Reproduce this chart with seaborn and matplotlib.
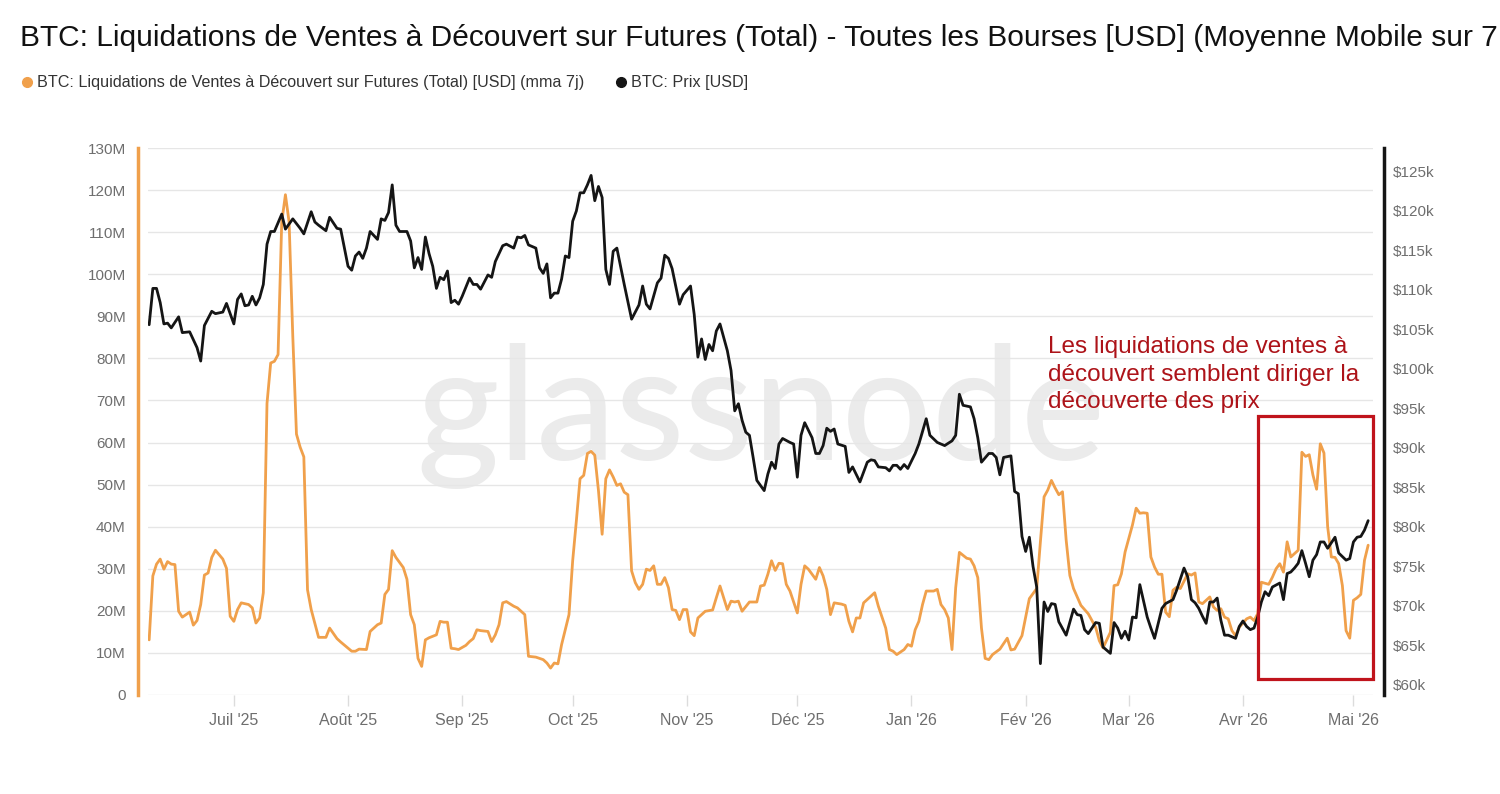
import pandas as pd
import matplotlib
matplotlib.use("Agg")
import matplotlib.pyplot as plt
import matplotlib.dates as mdates
from matplotlib.lines import Line2D
from matplotlib.patches import Rectangle
from matplotlib.ticker import FuncFormatter, MultipleLocator
import seaborn as sns

# --- Data ---
start_date = "2025-06-08"   # day 0

# (day, short liquidations 7d MA in M USD)
liq_points = [
    (0, 13.1), (1, 28.3), (2, 31.1), (3, 32.3), (4, 29.9), (5, 31.7), (6, 31.1), (7, 31.0), (8, 19.9),
    (9, 18.5), (11, 19.7), (12, 16.6), (13, 17.7), (14, 21.5), (15, 28.5), (16, 29.0), (17, 32.7),
    (18, 34.4), (20, 32.3), (21, 30.1), (22, 18.7), (23, 17.5), (24, 20.3), (25, 21.9), (27, 21.5),
    (28, 20.7), (29, 17.1), (30, 18.3), (31, 24.3), (32, 69.3), (33, 78.9), (34, 79.3), (35, 80.9),
    (36, 112.4), (37, 118.9), (38, 112.4), (39, 85.3), (40, 62.0), (41, 58.9), (42, 56.6), (43, 25.0),
    (44, 20.3), (46, 13.7), (48, 13.7), (49, 15.9), (51, 13.4), (52, 12.6), (55, 10.4), (56, 10.4),
    (57, 10.9), (59, 10.8), (60, 15.1), (62, 16.7), (63, 17.1), (64, 23.9), (65, 25.1), (66, 34.3),
    (67, 32.7), (69, 30.3), (70, 27.5), (71, 19.1), (72, 16.7), (73, 8.7), (74, 6.8), (75, 13.1),
    (76, 13.6), (78, 14.3), (79, 17.5), (80, 17.3), (81, 17.3), (82, 11.1), (83, 11.0), (84, 10.8),
    (86, 11.8), (87, 12.7), (88, 13.4), (89, 15.5), (90, 15.3), (92, 15.1), (93, 12.7), (94, 14.3),
    (95, 16.7), (96, 21.9), (97, 22.2), (99, 21.1), (100, 20.7), (102, 19.1), (103, 9.2), (105, 9.0),
    (107, 8.4), (108, 7.6), (109, 6.4), (110, 7.6), (111, 7.4), (112, 12.0), (114, 19.1), (115, 31.9),
    (116, 41.4), (117, 51.4), (118, 52.2), (119, 57.4), (120, 57.9), (121, 57.0), (122, 48.6),
    (123, 38.2), (124, 51.4), (125, 53.5), (126, 51.8), (127, 49.8), (128, 50.2), (129, 48.2),
    (130, 47.6), (131, 29.5), (132, 26.7), (133, 25.1), (134, 26.3), (135, 29.9), (136, 29.6),
    (137, 30.7), (138, 26.3), (139, 26.3), (140, 27.9), (141, 25.5), (142, 20.3), (143, 20.1),
    (144, 17.9), (145, 20.3), (146, 20.3), (147, 15.0), (148, 14.1), (149, 18.3), (151, 19.9),
    (153, 20.2), (154, 23.1), (155, 25.9), (156, 23.1), (157, 20.3), (158, 22.3), (159, 22.1),
    (160, 22.3), (161, 19.9), (163, 22.1), (164, 22.1), (165, 22.1), (166, 25.9), (167, 26.1),
    (168, 28.7), (169, 31.9), (170, 29.6), (171, 31.3), (172, 31.2), (173, 26.3), (174, 24.7),
    (175, 22.1), (176, 19.5), (177, 26.3), (178, 30.7), (179, 29.9), (181, 27.5), (182, 30.3),
    (183, 28.3), (184, 25.1), (185, 19.1), (186, 21.9), (188, 21.6), (189, 21.3), (190, 17.5),
    (191, 15.0), (192, 18.3), (193, 18.3), (194, 21.9), (195, 22.7), (197, 24.3), (198, 21.1),
    (200, 15.9), (201, 10.8), (202, 10.4), (203, 9.6), (205, 10.8), (206, 12.0), (207, 11.6),
    (208, 15.5), (209, 17.5), (210, 21.5), (211, 24.7), (213, 24.7), (214, 25.1), (215, 21.5),
    (216, 20.3), (217, 18.3), (218, 10.8), (219, 25.5), (220, 33.9), (222, 32.5), (223, 32.3),
    (224, 30.7), (225, 27.9), (226, 15.9), (227, 8.7), (228, 8.4), (229, 9.6), (231, 10.9),
    (233, 13.5), (234, 10.7), (235, 10.9), (237, 14.1), (238, 18.5), (239, 22.9), (241, 25.3),
    (242, 36.4), (243, 47.1), (244, 48.7), (245, 51.0), (246, 49.2), (247, 47.6), (248, 48.3),
    (249, 36.8), (250, 28.4), (251, 25.3), (253, 21.3), (255, 19.3), (257, 16.1), (258, 12.9),
    (259, 11.2), (261, 14.9), (262, 26.0), (263, 26.2), (264, 28.8), (265, 34.0), (266, 37.2),
    (267, 40.4), (268, 44.4), (269, 43.2), (270, 43.3), (271, 43.2), (272, 32.8), (273, 30.4),
    (274, 28.7), (275, 28.7), (276, 19.7), (277, 18.6), (278, 24.9), (279, 25.6), (280, 25.3),
    (282, 28.8), (283, 28.5), (284, 29.0), (285, 22.1), (286, 21.7), (288, 23.3), (289, 20.9),
    (290, 20.1), (291, 20.5), (292, 18.5), (293, 18.1), (294, 15.3), (295, 14.1), (296, 16.1),
    (298, 18.1), (299, 18.5), (300, 17.7), (301, 19.3), (302, 26.8), (304, 26.3), (305, 28.0),
    (306, 30.0), (307, 31.2), (308, 29.2), (309, 36.4), (310, 32.8), (311, 33.6), (312, 34.4),
    (313, 57.7), (314, 56.7), (315, 57.1), (316, 52.3), (317, 48.9), (318, 59.7), (319, 57.5),
    (320, 40.0), (321, 32.8), (322, 32.7), (323, 31.2), (324, 26.0), (325, 15.3), (326, 13.5),
    (327, 22.5), (328, 23.1), (329, 23.9), (330, 32.0), (331, 35.6),
]

# (day, BTC price in k USD)
price_points = [
    (0, 105.6), (1, 110.2), (2, 110.2), (3, 108.4), (4, 105.7), (5, 105.8), (6, 105.2), (8, 106.6),
    (9, 104.6), (11, 104.7), (13, 102.7), (14, 101.0), (15, 105.5), (17, 107.3), (18, 107.0),
    (20, 107.2), (21, 108.3), (23, 105.7), (24, 108.8), (25, 109.5), (26, 108.0), (27, 108.1),
    (28, 109.2), (29, 108.1), (30, 109.0), (31, 110.7), (32, 115.8), (33, 117.4), (34, 117.4),
    (36, 119.6), (37, 117.7), (39, 119.0), (41, 117.8), (42, 117.1), (44, 119.9), (45, 118.6),
    (46, 118.2), (48, 117.5), (49, 119.2), (51, 117.8), (52, 117.7), (54, 113.0), (55, 112.5),
    (56, 114.3), (57, 114.8), (58, 114.0), (59, 115.3), (60, 117.4), (62, 116.4), (63, 119.0),
    (64, 118.8), (65, 119.8), (66, 123.3), (67, 118.2), (68, 117.4), (70, 117.4), (71, 116.2),
    (72, 112.8), (73, 114.1), (74, 112.6), (75, 116.7), (76, 114.6), (77, 113.0), (78, 110.2),
    (79, 111.6), (80, 111.3), (81, 112.4), (82, 108.4), (83, 108.7), (84, 108.2), (85, 109.2),
    (87, 111.5), (88, 110.7), (89, 110.7), (90, 110.1), (92, 111.9), (93, 111.6), (94, 113.6),
    (96, 115.6), (97, 115.8), (99, 115.3), (100, 116.7), (101, 116.6), (102, 116.9), (103, 115.7),
    (105, 115.3), (106, 112.8), (107, 112.1), (108, 113.3), (109, 109.0), (110, 109.6), (111, 109.6),
    (112, 111.4), (113, 114.3), (114, 114.1), (115, 118.7), (116, 120.0), (117, 122.3), (118, 122.3),
    (119, 123.3), (120, 124.5), (121, 121.3), (122, 123.1), (123, 121.7), (124, 112.6), (125, 110.7),
    (126, 114.9), (127, 115.3), (129, 110.7), (131, 106.3), (133, 108.1), (134, 110.5), (135, 108.2),
    (136, 107.6), (138, 110.9), (139, 111.5), (140, 114.4), (141, 114.0), (142, 112.7), (144, 108.2),
    (145, 109.4), (147, 110.5), (148, 106.9), (149, 101.5), (150, 103.8), (151, 101.2), (152, 103.1),
    (153, 102.3), (154, 104.8), (155, 105.7), (157, 102.3), (158, 99.8), (159, 94.7), (160, 95.6),
    (161, 93.5), (162, 92.0), (163, 91.6), (164, 88.8), (165, 85.9), (167, 84.6), (168, 86.7),
    (169, 88.2), (170, 87.4), (171, 90.5), (172, 91.2), (174, 90.7), (175, 90.5), (176, 86.3),
    (177, 91.6), (178, 93.2), (180, 91.3), (181, 89.3), (182, 89.3), (183, 90.3), (184, 92.5),
    (185, 92.1), (186, 92.4), (187, 90.5), (189, 90.2), (190, 86.9), (191, 87.6), (193, 85.7),
    (195, 88.2), (196, 88.5), (197, 88.4), (198, 87.6), (200, 87.5), (201, 87.1), (202, 87.8),
    (203, 87.8), (204, 87.3), (205, 87.9), (206, 87.4), (208, 89.3), (209, 90.5), (211, 93.7),
    (212, 91.6), (214, 90.7), (216, 90.3), (218, 90.9), (219, 91.6), (220, 96.8), (221, 95.4),
    (223, 95.2), (224, 93.7), (225, 91.3), (226, 88.2), (228, 89.3), (229, 89.3), (230, 88.8),
    (231, 86.6), (232, 88.8), (234, 89.0), (235, 84.5), (236, 84.2), (237, 78.8), (238, 76.9),
    (239, 78.7), (240, 75.0), (241, 72.4), (242, 62.7), (243, 70.5), (244, 69.3), (245, 70.3),
    (246, 70.2), (247, 68.0), (249, 66.3), (251, 69.6), (252, 68.9), (253, 68.8), (254, 67.0),
    (255, 66.5), (257, 67.9), (258, 67.8), (259, 64.8), (261, 64.0), (262, 67.9), (263, 67.2),
    (264, 65.9), (265, 66.8), (266, 65.7), (267, 68.6), (268, 68.5), (269, 72.7), (271, 68.6),
    (272, 67.2), (273, 65.9), (275, 69.7), (276, 70.3), (278, 70.8), (279, 72.0), (281, 74.8),
    (282, 73.7), (283, 70.8), (284, 70.4), (285, 69.7), (286, 68.7), (287, 67.8), (288, 70.5),
    (289, 70.5), (290, 71.0), (291, 68.2), (292, 66.3), (293, 66.3), (295, 65.9), (296, 67.4),
    (297, 68.1), (298, 67.4), (299, 67.0), (300, 67.2), (301, 68.6), (302, 70.5), (303, 71.8),
    (304, 71.3), (305, 72.4), (307, 72.9), (308, 70.8), (309, 74.1), (310, 74.3), (311, 74.8),
    (312, 75.4), (313, 77.0), (314, 75.4), (315, 73.7), (316, 75.8), (317, 76.5), (318, 78.1),
    (319, 78.1), (320, 77.3), (322, 78.7), (323, 76.7), (325, 75.8), (326, 76.0), (327, 78.1),
    (328, 78.7), (329, 78.8), (330, 79.6), (331, 80.8),
]

month_names = ["Jan", "Fév", "Mar", "Avr", "Mai", "Juin", "Juil", "Août", "Sep", "Oct", "Nov", "Déc"]

title = ("BTC: Liquidations de Ventes à Découvert sur Futures (Total) - Toutes les Bourses [USD] "
         "(Moyenne Mobile sur 7 jours)")
liq_label = "BTC: Liquidations de Ventes à Découvert sur Futures (Total) [USD] (mma 7j)"
price_label = "BTC: Prix [USD]"
note = "Les liquidations de ventes à\ndécouvert semblent diriger la\ndécouverte des prix"

# --- Style ---
sns.set_theme(style="white")
plt.rcParams["font.family"] = ["Liberation Sans", "DejaVu Sans"]

ORANGE = "#f0a04b"
BLACK = "#151515"
RED = "#ad1319"
GRAY = "#6e6e6e"

start = pd.Timestamp(start_date)
liq = pd.DataFrame(liq_points, columns=["day", "value"])
liq["date"] = start + pd.to_timedelta(liq["day"], unit="D")
price = pd.DataFrame(price_points, columns=["day", "value"])
price["date"] = start + pd.to_timedelta(price["day"], unit="D")

fig = plt.figure(figsize=(15, 7.94), dpi=100)
ax = fig.add_axes([0.0987, 0.1247, 0.8166, 0.6889])
ax2 = ax.twinx()

# watermark
ax.text(0.5, 0.51, "glassnode", transform=ax.transAxes, ha="center", va="center",
        fontsize=114, color="#ebebeb", family="Lato", fontweight=500, zorder=0)

sns.lineplot(data=liq, x="date", y="value", ax=ax, color=ORANGE, lw=2.0, zorder=3)
sns.lineplot(data=price, x="date", y="value", ax=ax2, color=BLACK, lw=2.0, zorder=3)

ax.set_xlim(start - pd.Timedelta(days=0.3), start + pd.Timedelta(days=332.3))
ax.set_ylim(0, 130)
ax2.set_ylim(58.73, 127.97)

# axes formatting
ax.yaxis.set_major_locator(MultipleLocator(10))
ax.yaxis.set_major_formatter(FuncFormatter(lambda v, p: "0" if v == 0 else f"{v:.0f}M"))
ax2.yaxis.set_major_locator(MultipleLocator(5))
ax2.yaxis.set_major_formatter(FuncFormatter(lambda v, p: f"${v:.0f}k"))
ax.xaxis.set_major_locator(mdates.MonthLocator())
ax.xaxis.set_major_formatter(FuncFormatter(
    lambda v, p: f"{month_names[mdates.num2date(v).month - 1]} '{mdates.num2date(v).year % 100:02d}"))

ax.yaxis.grid(True, color="#e6e6e6", lw=1)
ax.xaxis.grid(False)
ax2.grid(False)

for name in ["top", "right", "bottom"]:
    ax.spines[name].set_visible(False)
for name in ["top", "left", "bottom"]:
    ax2.spines[name].set_visible(False)
ax.spines["left"].set_color(ORANGE)
ax.spines["left"].set_linewidth(2.5)
ax.spines["left"].set_position(("outward", 7))
ax2.spines["right"].set_color(BLACK)
ax2.spines["right"].set_linewidth(2.5)
ax2.spines["right"].set_position(("outward", 8))

ax.tick_params(axis="y", length=0, pad=9, labelcolor=GRAY, labelsize=11)
ax2.tick_params(axis="y", length=0, pad=6.5, labelcolor=GRAY, labelsize=11)
ax.tick_params(axis="x", bottom=True, length=8, width=1, color="#dcdcdc", pad=5,
               labelcolor=GRAY, labelsize=11.5)
ax.set_xlabel("")
ax.set_ylabel("")
ax2.set_ylabel("")

# highlight box and note
box_x0 = mdates.date2num(start + pd.Timedelta(days=301.1))
box_x1 = mdates.date2num(start + pd.Timedelta(days=332.3))
ax2.add_patch(Rectangle((box_x0, 60.75), box_x1 - box_x0, 33.3, fill=False,
                        edgecolor="#c0141c", lw=2.3, zorder=5, clip_on=False))
ax.text(start + pd.Timedelta(days=244.2), 85.3, note, color=RED, fontsize=17.5,
        ha="left", va="top", linespacing=1.33, zorder=5)

# title and legend
fig.text(0.0133, 0.952, title, fontsize=21.5, color="#111111", ha="left", va="center")
handles = [
    Line2D([0], [0], marker="o", ls="", color=ORANGE, markersize=7, label=liq_label),
    Line2D([0], [0], marker="o", ls="", color=BLACK, markersize=7, label=price_label),
]
fig.legend(handles=handles, loc="center left", bbox_to_anchor=(0.003, 0.8955), ncol=2,
           frameon=False, fontsize=11.6, handletextpad=0.1, columnspacing=1.8,
           handlelength=1.0, labelcolor="#333333")

fig.savefig("out.png", dpi=100)
